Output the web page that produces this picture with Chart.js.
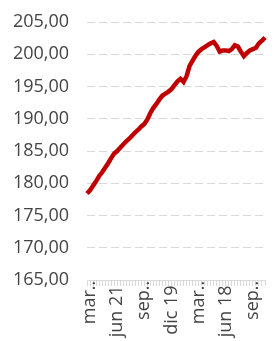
<!DOCTYPE html>
<html>
<head>
<meta charset="utf-8">
<script src="https://cdn.jsdelivr.net/npm/chart.js@4"></script>
<style>
    html, body { margin: 0; padding: 0; background: #fff; overflow: hidden; }
    #wrap { width: 275px; height: 341px; position: relative; }
</style>
</head>
<body>
<div id="wrap"><canvas id="indexChart"></canvas></div>
<script>
// Months (newest first, as in the source)
const months = [
    'abr 22', 'mar 22', 'feb 22', 'ene 22', 'dic 21', 'nov 21', 'oct 21', 'sep 21', 'ago 21', 'jul 21',
    'jun 21', 'may 21', 'abr 21', 'mar 21', 'feb 21', 'ene 21', 'dic 20', 'nov 20', 'oct 20', 'sep 20',
    'ago 20', 'jul 20', 'jun 20', 'may 20', 'abr 20', 'mar 20', 'feb 20', 'ene 20', 'dic 19', 'nov 19',
    'oct 19', 'sep 19', 'ago 19', 'jul 19', 'jun 19', 'may 19', 'abr 19', 'mar 19', 'feb 19', 'ene 19',
    'dic 18', 'nov 18', 'oct 18', 'sep 18', 'ago 18', 'jul 18', 'jun 18', 'may 18', 'abr 18', 'mar 18',
    'feb 18', 'ene 18', 'dic 17', 'nov 17', 'oct 17', 'sep 17', 'ago 17', 'jul 17', 'jun 17', 'may 17'
];

// Index values
const values = [
    178.4, 178.9, 179.6, 180.3, 181.1, 181.7, 182.4, 183.1, 183.9, 184.6,
    185.0, 185.5, 186.0, 186.5, 186.9, 187.4, 187.9, 188.3, 188.8, 189.2,
    189.9, 190.9, 191.7, 192.3, 193.0, 193.6, 193.9, 194.2, 194.6, 195.2,
    195.8, 196.2, 195.7, 196.6, 198.2, 199.0, 199.8, 200.4, 200.8, 201.1,
    201.4, 201.7, 201.9, 201.3, 200.4, 200.6, 200.6, 200.5, 200.8, 201.4,
    201.2, 200.4, 199.7, 200.2, 200.6, 200.8, 201.0, 201.7, 202.1, 202.6
];

// Which x ticks carry text, and the text shown
const tickIndexes = [1, 10, 19, 28, 37, 46, 55];
const tickTexts = ['mar...', 'jun 21  ', 'sep...', 'dic 19  ', 'mar...', 'jun 18  ', 'sep...'];

// Format number with comma decimals
function formatValue(num) {
    return num.toFixed(2).replace('.', ',');
}

const ctx = document.getElementById('indexChart').getContext('2d');
new Chart(ctx, {
    type: 'line',
    data: {
        labels: months,
        datasets: [{
            data: values,
            borderColor: '#c00000',
            borderWidth: 4.5,
            pointRadius: 0,
            tension: 0,
            fill: false
        }]
    },
    options: {
        responsive: true,
        maintainAspectRatio: false,
        animation: false,
        layout: {
            padding: { top: 22, right: 10, left: 0, bottom: 0 }
        },
        plugins: {
            legend: { display: false },
            tooltip: { enabled: false }
        },
        scales: {
            x: {
                afterFit: scale => {
                    scale.height = 61;
                    scale.paddingLeft = 0;
                    scale.paddingRight = 0;
                },
                border: { display: true, color: '#dadada' },
                grid: {
                    drawOnChartArea: false,
                    tickLength: 6,
                    color: '#dadada'
                },
                ticks: {
                    autoSkip: false,
                    maxRotation: 90,
                    minRotation: 90,
                    padding: -10,
                    color: '#444',
                    font: { family: 'Open Sans', size: 18 },
                    callback: (value, index) => {
                        const k = tickIndexes.indexOf(index);
                        return k >= 0 ? tickTexts[k] : '';
                    }
                }
            },
            y: {
                min: 165,
                max: 205,
                afterFit: scale => {
                    scale.width = 87;
                    scale.paddingTop = 0;
                    scale.paddingBottom = 0;
                },
                border: { display: false, dash: [8, 4] },
                grid: {
                    drawTicks: false,
                    color: '#d8d8d8',
                    lineWidth: 1
                },
                ticks: {
                    stepSize: 5,
                    padding: 18,
                    color: '#444',
                    font: { family: 'Open Sans', size: 18 },
                    callback: value => formatValue(value)
                }
            }
        }
    }
});
</script>
</body>
</html>
